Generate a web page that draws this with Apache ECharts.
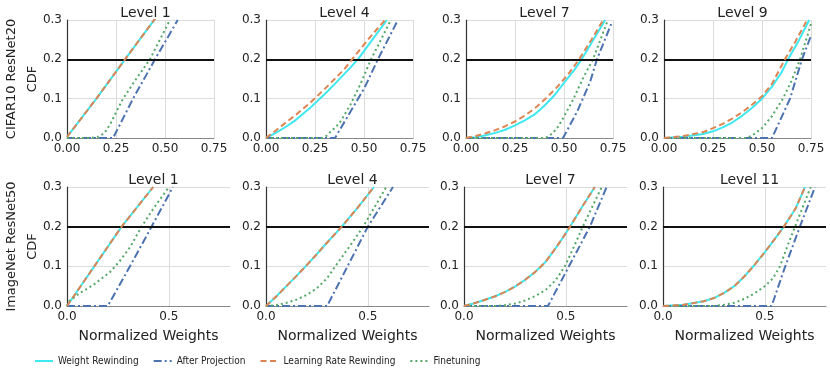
<!DOCTYPE html>
<html>
<head>
<meta charset="utf-8">
<script src="https://cdn.jsdelivr.net/npm/echarts@6/dist/echarts.min.js"></script>
<style>
  html, body { margin: 0; padding: 0; background: #fff; }
  #chart { width: 830px; height: 373px; }
</style>
</head>
<body>
<div id="chart"></div>
<script>
// panel titles, one row per dataset
var cifarLevels = ['Level 1', 'Level 4', 'Level 7', 'Level 9'];
var imagenetLevels = ['Level 1', 'Level 4', 'Level 7', 'Level 11'];
var rowNames = ['CIFAR10 ResNet20\nCDF', 'ImageNet ResNet50\nCDF'];
var methods = ['Weight Rewinding', 'After Projection', 'Learning Rate Rewinding', 'Finetuning'];

// x tick labels
var cifarXTicks = [0, 0.25, 0.5, 0.75];
var imagenetXTicks = [0, 0.5];
var yTicks = [0, 0.1, 0.2, 0.3];
var threshold = 0.2;

// CDF curves, [normalized weight, cdf], one list per level
var cifarWR = [
  [[0, 0.003], [0.15, 0.1], [0.296, 0.2], [0.449, 0.303]],
  [[0, 0], [0.05, 0.013], [0.1, 0.028], [0.15, 0.045], [0.224, 0.076], [0.3, 0.112], [0.35, 0.137], [0.4, 0.163], [0.469, 0.2], [0.54, 0.248], [0.617, 0.3]],
  [[0, 0], [0.05, 0.002], [0.1, 0.007], [0.15, 0.013], [0.2, 0.021], [0.25, 0.032], [0.3, 0.045], [0.35, 0.06], [0.4, 0.082], [0.45, 0.108], [0.5, 0.14], [0.55, 0.171], [0.59, 0.2], [0.65, 0.25], [0.71, 0.3]],
  [[0, 0], [0.1, 0.003], [0.2, 0.01], [0.25, 0.017], [0.3, 0.027], [0.35, 0.04], [0.4, 0.057], [0.45, 0.077], [0.5, 0.1], [0.55, 0.13], [0.6, 0.167], [0.633, 0.2], [0.69, 0.25], [0.741, 0.3]]
];
var cifarAP = [
  [[0, 0], [0.235, 0], [0.337, 0.1], [0.449, 0.2], [0.565, 0.3]],
  [[0, 0], [0.352, 0], [0.43, 0.066], [0.505, 0.13], [0.571, 0.2], [0.673, 0.3]],
  [[0, 0], [0.495, 0], [0.566, 0.066], [0.633, 0.142], [0.668, 0.2], [0.745, 0.295]],
  [[0, 0], [0.551, 0], [0.643, 0.1], [0.704, 0.2], [0.75, 0.26]]
];
var cifarLR = [
  [[0, 0.003], [0.15, 0.1], [0.296, 0.2], [0.449, 0.303]],
  [[0, 0], [0.05, 0.019], [0.1, 0.039], [0.15, 0.058], [0.224, 0.089], [0.3, 0.125], [0.35, 0.15], [0.4, 0.175], [0.439, 0.2], [0.52, 0.25], [0.607, 0.3]],
  [[0, 0], [0.05, 0.005], [0.1, 0.012], [0.15, 0.02], [0.2, 0.03], [0.25, 0.042], [0.3, 0.057], [0.35, 0.075], [0.4, 0.097], [0.46, 0.127], [0.52, 0.161], [0.577, 0.2], [0.64, 0.25], [0.7, 0.3]],
  [[0, 0], [0.1, 0.005], [0.2, 0.015], [0.25, 0.025], [0.3, 0.036], [0.35, 0.05], [0.4, 0.066], [0.45, 0.085], [0.5, 0.106], [0.55, 0.137], [0.617, 0.2], [0.67, 0.245], [0.73, 0.3]]
];
var cifarFT = [
  [[0, 0], [0.12, 0], [0.16, 0.003], [0.19, 0.012], [0.22, 0.035], [0.25, 0.065], [0.286, 0.1], [0.35, 0.148], [0.423, 0.2], [0.525, 0.3]],
  [[0, 0], [0.29, 0], [0.31, 0.006], [0.327, 0.015], [0.35, 0.025], [0.378, 0.04], [0.43, 0.084], [0.48, 0.135], [0.536, 0.2], [0.633, 0.296]],
  [[0, 0], [0.403, 0], [0.42, 0.004], [0.444, 0.013], [0.47, 0.029], [0.495, 0.05], [0.546, 0.097], [0.597, 0.152], [0.648, 0.2], [0.724, 0.3]],
  [[0, 0], [0.42, 0], [0.45, 0.006], [0.5, 0.025], [0.55, 0.055], [0.607, 0.1], [0.65, 0.145], [0.694, 0.2], [0.75, 0.29]]
];

var imagenetWR = [
  [[0, 0], [0.134, 0.1], [0.268, 0.2], [0.423, 0.3]],
  [[0, 0], [0.05, 0.024], [0.1, 0.05], [0.15, 0.076], [0.2, 0.103], [0.25, 0.131], [0.3, 0.16], [0.372, 0.2], [0.45, 0.248], [0.53, 0.3]],
  [[0, 0], [0.05, 0.007], [0.1, 0.015], [0.15, 0.024], [0.2, 0.035], [0.25, 0.049], [0.3, 0.066], [0.35, 0.086], [0.4, 0.111], [0.45, 0.146], [0.485, 0.172], [0.52, 0.2], [0.58, 0.25], [0.642, 0.3]],
  [[0, 0], [0.1, 0.003], [0.2, 0.012], [0.25, 0.02], [0.3, 0.033], [0.35, 0.05], [0.4, 0.075], [0.45, 0.104], [0.5, 0.136], [0.55, 0.17], [0.593, 0.2], [0.65, 0.245], [0.697, 0.3]]
];
var imagenetAP = [
  [[0, 0], [0.2, 0], [0.309, 0.1], [0.415, 0.2], [0.52, 0.3]],
  [[0, 0], [0.3, 0], [0.4, 0.1], [0.5, 0.2], [0.623, 0.3]],
  [[0, 0], [0.412, 0], [0.515, 0.1], [0.618, 0.2], [0.7, 0.3]],
  [[0, 0], [0.533, 0], [0.6, 0.1], [0.672, 0.2], [0.746, 0.3]]
];
var imagenetLR = [
  [[0, 0], [0.134, 0.1], [0.268, 0.2], [0.423, 0.3]],
  [[0, 0], [0.05, 0.024], [0.1, 0.05], [0.15, 0.076], [0.2, 0.103], [0.25, 0.131], [0.3, 0.16], [0.372, 0.2], [0.45, 0.248], [0.53, 0.3]],
  [[0, 0], [0.05, 0.007], [0.1, 0.015], [0.15, 0.024], [0.2, 0.035], [0.25, 0.049], [0.3, 0.066], [0.35, 0.086], [0.4, 0.111], [0.45, 0.146], [0.485, 0.172], [0.52, 0.2], [0.58, 0.25], [0.642, 0.3]],
  [[0, 0], [0.1, 0.003], [0.2, 0.012], [0.25, 0.02], [0.3, 0.033], [0.35, 0.05], [0.4, 0.075], [0.45, 0.104], [0.5, 0.136], [0.55, 0.17], [0.593, 0.2], [0.65, 0.245], [0.697, 0.3]]
];
var imagenetFT = [
  [[0, 0], [0.01, 0.012], [0.064, 0.033], [0.129, 0.053], [0.21, 0.085], [0.26, 0.114], [0.309, 0.148], [0.366, 0.2], [0.43, 0.25], [0.5, 0.3]],
  [[0, 0], [0.05, 0.002], [0.1, 0.008], [0.15, 0.016], [0.2, 0.028], [0.25, 0.045], [0.3, 0.07], [0.34, 0.1], [0.41, 0.15], [0.477, 0.2], [0.59, 0.3]],
  [[0, 0], [0.15, 0], [0.2, 0.002], [0.25, 0.006], [0.3, 0.014], [0.35, 0.025], [0.4, 0.04], [0.45, 0.065], [0.495, 0.1], [0.54, 0.15], [0.583, 0.2], [0.676, 0.3]],
  [[0, 0], [0.25, 0], [0.3, 0.003], [0.35, 0.008], [0.4, 0.018], [0.45, 0.032], [0.5, 0.05], [0.54, 0.07], [0.574, 0.1], [0.61, 0.15], [0.648, 0.2], [0.725, 0.3]]
];

var FONT = 'DejaVu Sans';
var colors = { wr: '#3ee8f0', ap: '#4c72b0', lr: '#dd8452', ft: '#55a868' };

// panel boxes in pixels
var topLefts = [67, 266, 466, 664];
var botLefts = [67, 266, 464, 663];

var grids = [], xAxes = [], yAxes = [], series = [], titles = [];

function addPanel(idx, row, col, title, data) {
  var isTop = row === 0;
  var left = isTop ? topLefts[col] : botLefts[col];
  var width = isTop ? 147 : 163;
  var top = isTop ? 20 : 187;
  var height = isTop ? 118 : 119;
  grids.push({ left: left, top: top, width: width, height: height, outerBoundsMode: 'none', containLabel: false });
  titles.push({
    text: title, left: left + width / 2, top: top - 19, textAlign: 'center',
    textStyle: { fontFamily: FONT, fontSize: 14, fontWeight: 'normal', color: '#222' }
  });
  var xt = isTop ? cifarXTicks : imagenetXTicks;
  xAxes.push({
    type: 'value', gridIndex: idx, min: 0, max: isTop ? 0.75 : 0.8,
    interval: xt[1] - xt[0],
    name: isTop ? '' : 'Normalized Weights', nameLocation: 'middle', nameGap: 23,
    nameTextStyle: { fontFamily: FONT, fontSize: 14, color: '#222' },
    axisLine: { lineStyle: { color: '#888', width: 1.2 } },
    axisTick: { show: false },
    axisLabel: {
      fontFamily: FONT, fontSize: 12, color: '#222', margin: 5, showMaxLabel: isTop,
      formatter: function (v) { return isTop ? v.toFixed(2) : v.toFixed(1); }
    },
    splitLine: { show: true, showMaxLine: isTop, lineStyle: { color: '#dcdcdc', width: 1 } }
  });
  yAxes.push({
    type: 'value', gridIndex: idx, min: yTicks[0], max: yTicks[yTicks.length - 1], interval: yTicks[1] - yTicks[0],
    name: col === 0 ? rowNames[row] : '', nameLocation: 'middle', nameRotate: 90, nameGap: 24,
    nameMoveOverlap: false,
    nameTextStyle: { fontFamily: FONT, fontSize: 13, color: '#222', lineHeight: 21 },
    axisLine: { show: true, lineStyle: { color: '#333', width: 1.2 } },
    axisTick: { show: false },
    axisLabel: {
      fontFamily: FONT, fontSize: 12, color: '#222', margin: 5,
      formatter: function (v) { return v.toFixed(1); }
    },
    splitLine: { show: true, lineStyle: { color: '#dcdcdc', width: 1 } }
  });

  series.push({
    name: methods[0], type: 'line', xAxisIndex: idx, yAxisIndex: idx, data: data.wr,
    showSymbol: false, symbol: 'none', z: 3,
    lineStyle: { color: colors.wr, width: 2 }, itemStyle: { color: colors.wr },
    markLine: {
      silent: true, symbol: 'none', label: { show: false },
      lineStyle: { color: '#111', width: 2, type: 'solid' },
      data: [{ yAxis: threshold }]
    }
  });
  series.push({
    name: methods[1], type: 'line', xAxisIndex: idx, yAxisIndex: idx, data: data.ap,
    showSymbol: false, symbol: 'none', z: 4,
    lineStyle: { color: colors.ap, width: 2, type: [8, 3, 2, 3] }, itemStyle: { color: colors.ap }
  });
  series.push({
    name: methods[2], type: 'line', xAxisIndex: idx, yAxisIndex: idx, data: data.lr,
    showSymbol: false, symbol: 'none', z: 5,
    lineStyle: { color: colors.lr, width: 2, type: [6, 3.5] }, itemStyle: { color: colors.lr }
  });
  series.push({
    name: methods[3], type: 'line', xAxisIndex: idx, yAxisIndex: idx, data: data.ft,
    showSymbol: false, symbol: 'none', z: 4,
    lineStyle: { color: colors.ft, width: 2, type: [2, 3] }, itemStyle: { color: colors.ft }
  });
}

for (var i = 0; i < 4; i++) {
  addPanel(i, 0, i, cifarLevels[i], { wr: cifarWR[i], ap: cifarAP[i], lr: cifarLR[i], ft: cifarFT[i] });
}
for (var j = 0; j < 4; j++) {
  addPanel(4 + j, 1, j, imagenetLevels[j], { wr: imagenetWR[j], ap: imagenetAP[j], lr: imagenetLR[j], ft: imagenetFT[j] });
}

var chart = echarts.init(document.getElementById('chart'), null, { renderer: 'canvas' });
chart.setOption({
  animation: false,
  backgroundColor: '#fff',
  title: titles,
  grid: grids,
  xAxis: xAxes,
  yAxis: yAxes,
  legend: {
    data: methods, left: 29, top: 351, itemWidth: 18, itemHeight: 10, itemGap: 14,
    itemStyle: { opacity: 0 },
    textStyle: { fontFamily: "'Liberation Sans Narrow', 'DejaVu Sans Condensed', 'DejaVu Sans'", fontSize: 10, color: '#222' }
  },
  series: series
});
</script>
</body>
</html>
